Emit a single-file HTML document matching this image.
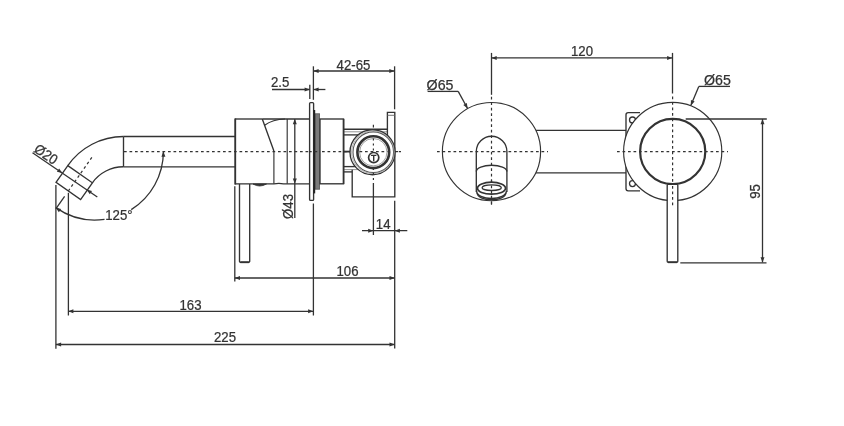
<!DOCTYPE html>
<html><head><meta charset="utf-8"><style>
html,body{margin:0;padding:0;background:#fff;}
svg{display:block;will-change:transform;}
text{font-family:"Liberation Sans",sans-serif;}
</style></head><body>
<svg width="844" height="426" viewBox="0 0 844 426">
<rect width="844" height="426" fill="#fff"/>
<line x1="124" y1="151.6" x2="401" y2="151.6" stroke="#333" stroke-width="1.2" stroke-dasharray="2.7 2.8"/>
<line x1="123.5" y1="136.5" x2="235" y2="136.5" stroke="#333" stroke-width="1.35"/>
<line x1="123.5" y1="166.8" x2="235" y2="166.8" stroke="#333" stroke-width="1.35"/>
<line x1="123.5" y1="136.5" x2="123.5" y2="166.8" stroke="#333" stroke-width="1.35"/>
<path d="M123.5,136.5 A68,68 0 0 0 67.8,165.6" stroke="#333" stroke-width="1.35" fill="none"/>
<path d="M123.5,166.8 A38,38 0 0 0 92.37,182.8" stroke="#333" stroke-width="1.35" fill="none"/>
<path d="M67.8,165.6 L92.37,182.8 L80.61,199.6 L56.04,182.39 Z" stroke="#333" stroke-width="1.35" fill="none"/>
<line x1="91.84" y1="157.41" x2="68.33" y2="190.99" stroke="#333" stroke-width="1.2" stroke-dasharray="2.7 2.8"/>
<line x1="64.6" y1="196.32" x2="55.99" y2="208.6" stroke="#333" stroke-width="1.3"/>
<path d="M163.4,151.6 A68.4,68.4 0 0 1 131.25,209.61" stroke="#333" stroke-width="1.3" fill="none"/>
<path d="M104.52,219.33 A68.4,68.4 0 0 1 55.77,207.63" stroke="#333" stroke-width="1.3" fill="none"/>
<polygon points="163.4,151.6 165.4,156.8 161.4,156.8" fill="#333"/>
<polygon points="55.77,207.63 61.17,208.97 58.88,212.25" fill="#333"/>
<text x="0" y="0" font-size="14.2" text-anchor="start" fill="#333" stroke="#333" stroke-width="0.25" transform="translate(105.2,219.9) scale(0.93,1)">125°</text>
<line x1="32.5" y1="152.8" x2="97.3" y2="197" stroke="#333" stroke-width="1.3"/>
<polygon points="62.3,173.1 56.88,171.82 59.13,168.52" fill="#333"/>
<polygon points="86.6,189.6 92.02,190.88 89.77,194.18" fill="#333"/>
<text x="0" y="0" font-size="14.2" text-anchor="start" fill="#333" stroke="#333" stroke-width="0.25" transform="translate(33,151.2) rotate(34.3) scale(0.93,1)">Ø20</text>
<line x1="55.9" y1="185" x2="55.9" y2="348.8" stroke="#333" stroke-width="1.3"/>
<line x1="68.4" y1="192.8" x2="68.4" y2="315.5" stroke="#333" stroke-width="1.3"/>
<line x1="55.9" y1="344.5" x2="394.7" y2="344.5" stroke="#333" stroke-width="1.3"/>
<polygon points="55.9,344.5 61.1,342.5 61.1,346.5" fill="#333"/>
<polygon points="394.7,344.5 389.5,346.5 389.5,342.5" fill="#333"/>
<text x="0" y="0" font-size="14.2" text-anchor="middle" fill="#333" stroke="#333" stroke-width="0.25" transform="translate(225,342.2) scale(0.93,1)">225</text>
<line x1="68.2" y1="311.3" x2="313.3" y2="311.3" stroke="#333" stroke-width="1.3"/>
<polygon points="68.2,311.3 73.4,309.3 73.4,313.3" fill="#333"/>
<polygon points="313.3,311.3 308.1,313.3 308.1,309.3" fill="#333"/>
<text x="0" y="0" font-size="14.2" text-anchor="middle" fill="#333" stroke="#333" stroke-width="0.25" transform="translate(190.5,309.7) scale(0.93,1)">163</text>
<line x1="234.8" y1="278" x2="394.7" y2="278" stroke="#333" stroke-width="1.3"/>
<polygon points="234.8,278 240,276 240,280" fill="#333"/>
<polygon points="394.7,278 389.5,280 389.5,276" fill="#333"/>
<text x="0" y="0" font-size="14.2" text-anchor="middle" fill="#333" stroke="#333" stroke-width="0.25" transform="translate(347.5,275.8) scale(0.93,1)">106</text>
<line x1="234.8" y1="186.3" x2="234.8" y2="281.4" stroke="#333" stroke-width="1.3"/>
<line x1="313.4" y1="203.5" x2="313.4" y2="315.5" stroke="#333" stroke-width="1.3"/>
<line x1="394.7" y1="200.8" x2="394.7" y2="348.4" stroke="#333" stroke-width="1.3"/>
<line x1="362" y1="230.7" x2="407.3" y2="230.7" stroke="#333" stroke-width="1.3"/>
<polygon points="373.4,230.7 368.2,232.7 368.2,228.7" fill="#333"/>
<polygon points="394.7,230.7 399.9,228.7 399.9,232.7" fill="#333"/>
<text x="0" y="0" font-size="14.2" text-anchor="middle" fill="#333" stroke="#333" stroke-width="0.25" transform="translate(383.2,228.5) scale(0.93,1)">14</text>
<line x1="373.4" y1="183" x2="373.4" y2="235" stroke="#333" stroke-width="1.3"/>
<path d="M239.5,184 L239.5,261.5 Q239.5,262.3 240.5,262.3 L248.7,262.3 Q249.7,262.3 249.7,261.5 L249.7,184" stroke="#333" stroke-width="1.35" fill="none"/>
<line x1="240.3" y1="262.2" x2="248.9" y2="262.2" stroke="#333" stroke-width="1.9"/>
<path d="M253,184 Q259.5,188 266.5,184 Z" stroke="#333" stroke-width="0.8" fill="#333"/>
<path d="M262.3,119 L273.9,150.9 M235.3,119 L235.3,183.8 L273.9,183.8 Q279,183 283.5,183.8 L309.6,183.8" stroke="#333" stroke-width="1.35" fill="none"/>
<line x1="235.3" y1="118.3" x2="235.3" y2="184.5" stroke="#333" stroke-width="1.7"/>
<line x1="235.3" y1="119" x2="262.3" y2="119" stroke="#333" stroke-width="1.35"/>
<line x1="273.9" y1="150.9" x2="273.9" y2="183.8" stroke="#333" stroke-width="1.15"/>
<line x1="262.3" y1="119" x2="309.6" y2="119" stroke="#333" stroke-width="1.35"/>
<path d="M264.6,125.3 C269,122 275,119.2 285,119" stroke="#333" stroke-width="1.2" fill="none"/>
<line x1="287.2" y1="119" x2="287.2" y2="183.8" stroke="#333" stroke-width="1.15"/>
<line x1="294.8" y1="119" x2="294.8" y2="218" stroke="#333" stroke-width="1.3"/>
<polygon points="294.8,119 296.8,124.2 292.8,124.2" fill="#333"/>
<polygon points="294.8,183.8 292.8,178.6 296.8,178.6" fill="#333"/>
<text x="0" y="0" font-size="14.2" text-anchor="middle" fill="#333" stroke="#333" stroke-width="0.25" transform="translate(293.2,206.5) rotate(-90) scale(0.93,1)">Ø43</text>
<rect x="309.6" y="102.6" width="4" height="97.8" rx="1" fill="#fff" stroke="#333" stroke-width="1.35"/>
<rect x="315" y="113.8" width="4.6" height="75.4" fill="#7a7a7a" stroke="#555" stroke-width="0.8"/>
<line x1="314.3" y1="110" x2="314.3" y2="193.4" stroke="#222" stroke-width="1.8"/>
<line x1="309" y1="151.6" x2="320" y2="151.6" stroke="#333" stroke-width="1.2" stroke-dasharray="2.7 2.8"/>
<rect x="320" y="119" width="23.5" height="64.8" fill="none" stroke="#333" stroke-width="1.35"/>
<line x1="343.5" y1="129.2" x2="387.4" y2="129.2" stroke="#333" stroke-width="1.35"/>
<line x1="343.5" y1="131.8" x2="387.4" y2="131.8" stroke="#777" stroke-width="0.8"/>
<line x1="343.5" y1="134.9" x2="362" y2="134.9" stroke="#333" stroke-width="1.35"/>
<path d="M387.4,140 L387.4,112.4 L394.8,112.4 L394.8,196.8 L352.2,196.8 L352.2,169.6" stroke="#333" stroke-width="1.35" fill="none"/>
<line x1="387.4" y1="115.3" x2="394.8" y2="115.3" stroke="#666" stroke-width="0.9"/>
<line x1="343.5" y1="166.6" x2="362" y2="166.6" stroke="#333" stroke-width="1.35"/>
<line x1="343.5" y1="169.6" x2="358" y2="169.6" stroke="#777" stroke-width="0.8"/>
<line x1="343.5" y1="171.9" x2="352.2" y2="171.9" stroke="#333" stroke-width="1.35"/>
<line x1="343.6" y1="119" x2="343.6" y2="184" stroke="#333" stroke-width="1.6"/>
<line x1="344" y1="151.6" x2="352" y2="151.6" stroke="#333" stroke-width="1.8"/>
<line x1="373.4" y1="124.7" x2="373.4" y2="131" stroke="#333" stroke-width="1.2" stroke-dasharray="2.7 2.8"/>
<circle cx="372.5" cy="152.2" r="22.5" fill="#fff" stroke="#333" stroke-width="1.35"/>
<circle cx="373.3" cy="152.2" r="20.3" stroke="#555" stroke-width="1.1" fill="none"/>
<circle cx="372.9" cy="152.2" r="21.3" stroke="#999" stroke-width="0.8" fill="none"/>
<circle cx="373.3" cy="152.2" r="15.9" stroke="#333" stroke-width="2.6" fill="none"/>
<circle cx="373.3" cy="152.2" r="13.7" stroke="#777" stroke-width="0.7" fill="none"/>
<line x1="359.5" y1="151.6" x2="387.5" y2="151.6" stroke="#333" stroke-width="1.2" stroke-dasharray="2.7 2.8"/>
<line x1="395.5" y1="151.6" x2="401" y2="151.6" stroke="#333" stroke-width="1.2" stroke-dasharray="2.7 2.8"/>
<line x1="373.4" y1="138.5" x2="373.4" y2="152" stroke="#333" stroke-width="1.2" stroke-dasharray="2 3"/>
<line x1="373.4" y1="168" x2="373.4" y2="183" stroke="#333" stroke-width="1.2" stroke-dasharray="2 3"/>
<circle cx="373.7" cy="157.6" r="5.1" fill="#fff" stroke="#333" stroke-width="1.7"/>
<path d="M371,155.4 L376.4,155.4 M373.7,155.4 L373.7,161.3" stroke="#333" stroke-width="1.4" fill="none"/>
<line x1="313.4" y1="71" x2="394.5" y2="71" stroke="#333" stroke-width="1.3"/>
<polygon points="313.4,71 318.6,69 318.6,73" fill="#333"/>
<polygon points="394.5,71 389.3,73 389.3,69" fill="#333"/>
<text x="0" y="0" font-size="14.2" text-anchor="middle" fill="#333" stroke="#333" stroke-width="0.25" transform="translate(353.5,69.9) scale(0.93,1)">42-65</text>
<line x1="313.4" y1="66.3" x2="313.4" y2="99.8" stroke="#333" stroke-width="1.3"/>
<line x1="394.6" y1="66.3" x2="394.6" y2="109.3" stroke="#333" stroke-width="1.3"/>
<line x1="272" y1="89.5" x2="309.8" y2="89.5" stroke="#333" stroke-width="1.3"/>
<polygon points="309.8,89.5 304.6,91.5 304.6,87.5" fill="#333"/>
<line x1="313.4" y1="89.5" x2="325.4" y2="89.5" stroke="#333" stroke-width="1.3"/>
<polygon points="313.4,89.5 318.6,87.5 318.6,91.5" fill="#333"/>
<line x1="309.8" y1="84.7" x2="309.8" y2="98.9" stroke="#333" stroke-width="1.3"/>
<text x="0" y="0" font-size="14.2" text-anchor="middle" fill="#333" stroke="#333" stroke-width="0.25" transform="translate(280.2,87) scale(0.93,1)">2.5</text>
<circle cx="491.5" cy="151.6" r="49.1" stroke="#333" stroke-width="1.15" fill="none"/>
<line x1="437" y1="151.6" x2="548" y2="151.6" stroke="#333" stroke-width="1.2" stroke-dasharray="2.7 2.8"/>
<line x1="491.5" y1="96.8" x2="491.5" y2="206" stroke="#333" stroke-width="1.2" stroke-dasharray="2.7 2.8"/>
<path d="M476.3,192 L476.3,151.5 A15.3,15.3 0 0 1 506.9,151.5 L506.9,192" stroke="#333" stroke-width="1.35" fill="none"/>
<path d="M476.3,171.5 A15.3,6.3 0 0 1 506.9,171.5" stroke="#333" stroke-width="1.35" fill="none"/>
<path d="M476.6,191 A14.9,7.5 0 0 0 506.4,191" stroke="#333" stroke-width="1.4" fill="none"/>
<path d="M477.2,193 A14.3,6.8 0 0 0 505.8,193" stroke="#333" stroke-width="1.4" fill="none"/>
<ellipse cx="491.5" cy="188.2" rx="14" ry="6" fill="#fff" stroke="#333" stroke-width="1.7"/>
<ellipse cx="491.7" cy="187.7" rx="9.6" ry="2.8" fill="none" stroke="#333" stroke-width="1.3"/>
<line x1="491.5" y1="180" x2="491.5" y2="206" stroke="#333" stroke-width="1.2" stroke-dasharray="2.7 2.8"/>
<line x1="536" y1="130.3" x2="626" y2="130.3" stroke="#333" stroke-width="1.35"/>
<line x1="536" y1="172.8" x2="626" y2="172.8" stroke="#333" stroke-width="1.35"/>
<path d="M640,112.6 L628.2,112.6 Q626,112.6 626,114.8 L626,188.6 Q626,190.8 628.2,190.8 L640,190.8" stroke="#333" stroke-width="1.35" fill="none"/>
<circle cx="632.5" cy="120" r="3" stroke="#333" stroke-width="1.3" fill="none"/>
<circle cx="632.5" cy="183.6" r="3" stroke="#333" stroke-width="1.3" fill="none"/>
<circle cx="672.7" cy="151.5" r="49.1" fill="#fff" stroke="#333" stroke-width="1.15"/>
<circle cx="672.7" cy="151.5" r="32.6" stroke="#333" stroke-width="2.2" fill="none"/>
<line x1="617" y1="151.6" x2="728" y2="151.6" stroke="#333" stroke-width="1.2" stroke-dasharray="2.7 2.8"/>
<line x1="672.6" y1="96.5" x2="672.6" y2="207" stroke="#333" stroke-width="1.2" stroke-dasharray="2.7 2.8"/>
<rect x="667.2" y="184.3" width="10.6" height="78" rx="1" fill="#fff" stroke="#333" stroke-width="1.35"/>
<line x1="668" y1="262.2" x2="677" y2="262.2" stroke="#333" stroke-width="1.9"/>
<line x1="672.6" y1="186" x2="672.6" y2="207" stroke="#333" stroke-width="1.2" stroke-dasharray="2.7 2.8"/>
<line x1="762.5" y1="119" x2="762.5" y2="262.4" stroke="#333" stroke-width="1.3"/>
<polygon points="762.5,119 764.5,124.2 760.5,124.2" fill="#333"/>
<polygon points="762.5,262.4 760.5,257.2 764.5,257.2" fill="#333"/>
<line x1="685.7" y1="119" x2="766.8" y2="119" stroke="#333" stroke-width="1.3"/>
<line x1="680.3" y1="262.8" x2="766.5" y2="262.8" stroke="#333" stroke-width="1.3"/>
<text x="0" y="0" font-size="14.2" text-anchor="middle" fill="#333" stroke="#333" stroke-width="0.25" transform="translate(760.4,191.5) rotate(-90) scale(0.93,1)">95</text>
<line x1="491.5" y1="57.9" x2="672.3" y2="57.9" stroke="#333" stroke-width="1.3"/>
<polygon points="491.5,57.9 496.7,55.9 496.7,59.9" fill="#333"/>
<polygon points="672.3,57.9 667.1,59.9 667.1,55.9" fill="#333"/>
<line x1="491.5" y1="52.9" x2="491.5" y2="94.8" stroke="#333" stroke-width="1.3"/>
<line x1="672.5" y1="52.9" x2="672.5" y2="93.5" stroke="#333" stroke-width="1.3"/>
<text x="0" y="0" font-size="14.2" text-anchor="middle" fill="#333" stroke="#333" stroke-width="0.25" transform="translate(582,56.2) scale(0.93,1)">120</text>
<text x="426.6" y="89.8" font-size="14.2" text-anchor="start" fill="#333" stroke="#333" stroke-width="0.25">Ø65</text>
<line x1="427.6" y1="91.4" x2="458.2" y2="91.4" stroke="#333" stroke-width="1.3"/>
<line x1="458.2" y1="91.4" x2="467.6" y2="108.5" stroke="#333" stroke-width="1.3"/>
<polygon points="467.6,108.5 463.34,104.91 466.85,102.98" fill="#333"/>
<text x="704" y="85.1" font-size="14.2" text-anchor="start" fill="#333" stroke="#333" stroke-width="0.25">Ø65</text>
<line x1="698.8" y1="86.4" x2="730" y2="86.4" stroke="#333" stroke-width="1.3"/>
<line x1="698.8" y1="86.4" x2="690.8" y2="105.5" stroke="#333" stroke-width="1.3"/>
<polygon points="690.8,105.5 690.96,99.93 694.65,101.48" fill="#333"/>
</svg>
</body></html>
